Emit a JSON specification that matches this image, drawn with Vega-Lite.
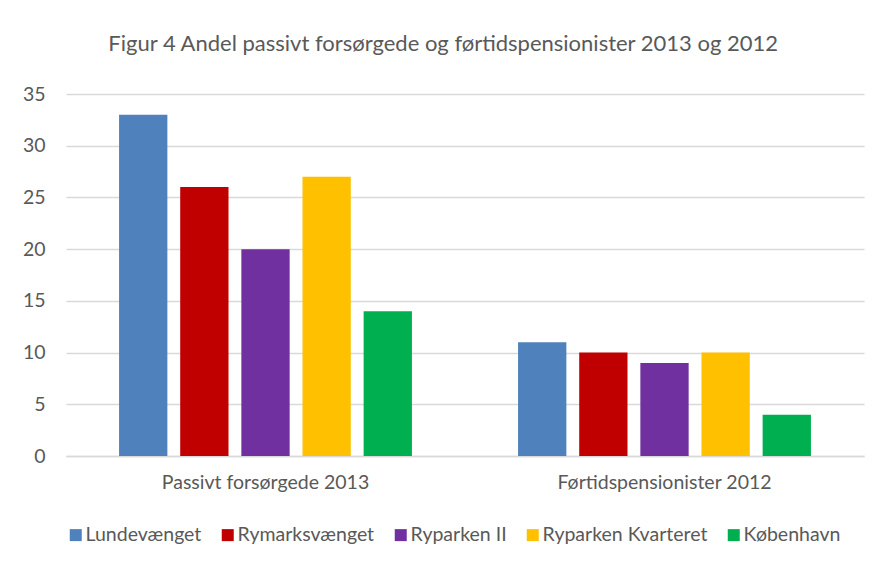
{
  "$schema": "https://vega.github.io/schema/vega-lite/v6.json",
  "width": 798,
  "height": 362,
  "autosize": {"type": "none"},
  "padding": {"left": 66, "top": 94, "right": 15, "bottom": 106},
  "background": "white",
  "title": {
    "text": "Figur 4 Andel passivt forsørgede og førtidspensionister 2013 og 2012",
    "font": "Lato",
    "fontSize": 22,
    "fontWeight": "normal",
    "color": "#595959",
    "anchor": "middle",
    "frame": "bounds",
    "baseline": "alphabetic",
    "offset": 11
  },
  "data": {
    "values": [
      {"group": "Passivt forsørgede 2013", "series": "Lundevænget", "value": 33},
      {"group": "Passivt forsørgede 2013", "series": "Rymarksvænget", "value": 26},
      {"group": "Passivt forsørgede 2013", "series": "Ryparken II", "value": 20},
      {"group": "Passivt forsørgede 2013", "series": "Ryparken Kvarteret", "value": 27},
      {"group": "Passivt forsørgede 2013", "series": "København", "value": 14},
      {"group": "Førtidspensionister 2012", "series": "Lundevænget", "value": 11},
      {"group": "Førtidspensionister 2012", "series": "Rymarksvænget", "value": 10},
      {"group": "Førtidspensionister 2012", "series": "Ryparken II", "value": 9},
      {"group": "Førtidspensionister 2012", "series": "Ryparken Kvarteret", "value": 10},
      {"group": "Førtidspensionister 2012", "series": "København", "value": 4}
    ]
  },
  "mark": {"type": "bar"},
  "encoding": {
    "x": {
      "field": "group",
      "type": "nominal",
      "sort": ["Passivt forsørgede 2013", "Førtidspensionister 2012"],
      "scale": {"paddingInner": 0.266, "paddingOuter": 0.133},
      "axis": {
        "title": null,
        "labelAngle": 0,
        "labelFont": "Lato",
        "labelFontSize": 19.5,
        "labelColor": "#595959",
        "labelPadding": 17,
        "labelLimit": 400,
        "ticks": false,
        "domain": true,
        "domainColor": "#D9D9D9",
        "domainWidth": 1.5
      }
    },
    "xOffset": {
      "field": "series",
      "type": "nominal",
      "sort": ["Lundevænget", "Rymarksvænget", "Ryparken II", "Ryparken Kvarteret", "København"],
      "scale": {"paddingInner": 0.21, "paddingOuter": 0}
    },
    "y": {
      "field": "value",
      "type": "quantitative",
      "scale": {"domain": [0, 35]},
      "axis": {
        "title": null,
        "values": [0, 5, 10, 15, 20, 25, 30, 35],
        "labelFont": "Lato",
        "labelFontSize": 19.5,
        "labelColor": "#595959",
        "labelPadding": 21,
        "ticks": false,
        "domain": false,
        "grid": true,
        "gridColor": "#D9D9D9",
        "gridWidth": 1.5
      }
    },
    "color": {
      "field": "series",
      "type": "nominal",
      "scale": {
        "domain": ["Lundevænget", "Rymarksvænget", "Ryparken II", "Ryparken Kvarteret", "København"],
        "range": ["#4F81BD", "#C00000", "#7030A0", "#FFC000", "#00B050"]
      },
      "legend": {
        "title": null,
        "orient": "bottom",
        "direction": "horizontal",
        "offset": 33,
        "symbolType": "square",
        "symbolSize": 144,
        "symbolStrokeWidth": 0,
        "labelFont": "Lato",
        "labelFontSize": 19.5,
        "labelColor": "#595959",
        "labelOffset": 0,
        "labelLimit": 400,
        "columnPadding": 16
      }
    }
  },
  "config": {"view": {"stroke": null}}
}
